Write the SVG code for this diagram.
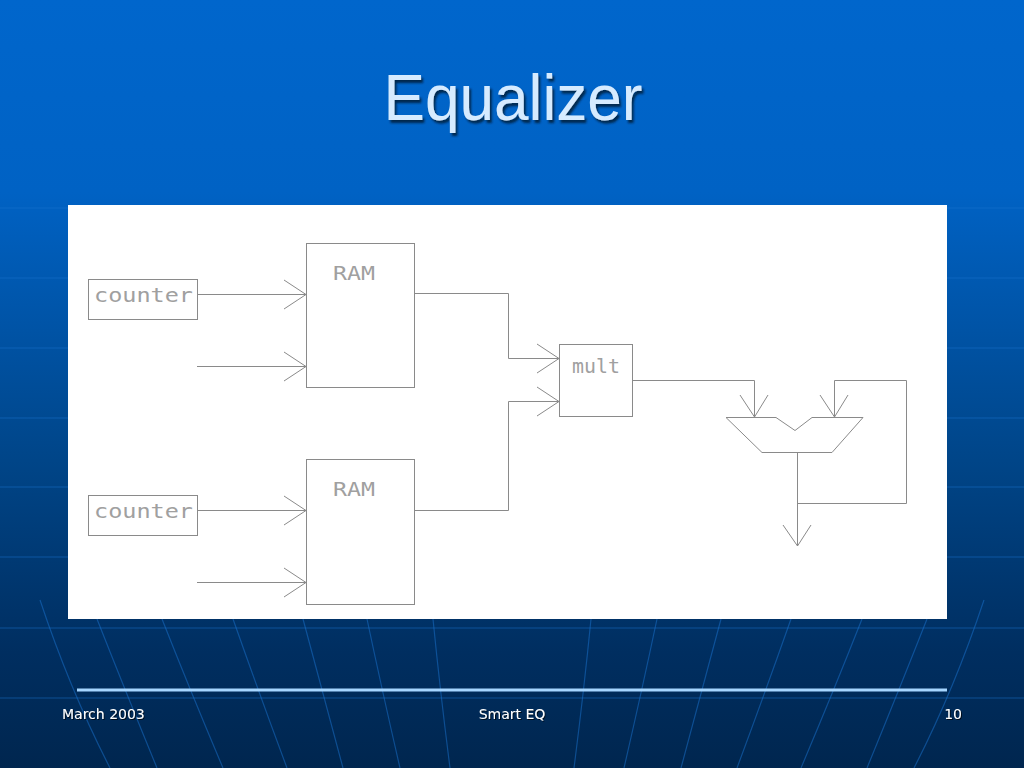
<svg xmlns="http://www.w3.org/2000/svg" width="1024" height="768" viewBox="0 0 1024 768">
<defs>
<linearGradient id="bg" x1="0" y1="0" x2="0" y2="1">
<stop offset="0" stop-color="#0066cc"/>
<stop offset="0.25" stop-color="#0062c4"/>
<stop offset="0.6" stop-color="#004588"/>
<stop offset="0.85" stop-color="#002e60"/>
<stop offset="1" stop-color="#00264f"/>
</linearGradient>
<filter id="sh" x="-10%" y="-10%" width="130%" height="140%">
<feDropShadow dx="2" dy="3" stdDeviation="1" flood-color="#001a33" flood-opacity="0.8"/>
</filter>
<filter id="sh2" x="-10%" y="-20%" width="130%" height="160%">
<feDropShadow dx="1" dy="1" stdDeviation="0.5" flood-color="#000" flood-opacity="0.7"/>
</filter>
</defs>
<style>
.ln{fill:none;stroke:#8a8a8a;stroke-width:1}
.bx{fill:#fff;stroke:#8a8a8a;stroke-width:1}
.lb{font-family:"DejaVu Sans Mono","Liberation Mono",monospace;fill:#a0a0a0;font-size:20px}
.ft{font-family:"DejaVu Sans","Liberation Sans",sans-serif;fill:#ffffff;font-size:14px}
.deco{fill:none;stroke:#1a73d0;stroke-width:1.2;opacity:0.5}
</style>
<rect x="0" y="0" width="1024" height="768" fill="url(#bg)"/>
<g id="decoration">
<path class="deco" d="M0 208H1024M0 278H1024M0 348H1024M0 418H1024M0 487H1024M0 557H1024M0 628H1024M0 698H1024"/>
<path class="deco" d="M40 600Q70 690 110 768M97 619Q125 690 157 768M162 619Q190 690 223 768M233 619Q258 690 287 768M303 619Q322 690 343 768M367 619Q382 690 400 768M433 619Q440 690 450 768"/>
<path class="deco" d="M984 600Q954 690 914 768M927 619Q899 690 867 768M862 619Q834 690 801 768M791 619Q766 690 737 768M721 619Q702 690 681 768M657 619Q642 690 624 768M591 619Q584 690 574 768"/>
</g>
<text x="513" y="120" text-anchor="middle" font-family="Liberation Sans, Arial, sans-serif" font-size="64" fill="#d6ebff" filter="url(#sh)" textLength="259" lengthAdjust="spacingAndGlyphs">Equalizer</text>
<rect x="68" y="205" width="879" height="414" fill="#ffffff"/>
<g id="counter1"><rect class="bx" x="88.5" y="279.5" width="109" height="40"/><text class="lb" x="94" y="302" textLength="99" lengthAdjust="spacingAndGlyphs">counter</text></g>
<g id="counter2"><rect class="bx" x="88.5" y="495.5" width="109" height="40"/><text class="lb" x="94" y="518" textLength="99" lengthAdjust="spacingAndGlyphs">counter</text></g>
<g id="ram1"><rect class="bx" x="306.5" y="243.5" width="108" height="144"/><text class="lb" x="333" y="280" textLength="42" lengthAdjust="spacingAndGlyphs">RAM</text></g>
<g id="ram2"><rect class="bx" x="306.5" y="459.5" width="108" height="145"/><text class="lb" x="333" y="496" textLength="42" lengthAdjust="spacingAndGlyphs">RAM</text></g>
<g id="mult"><rect class="bx" x="559.5" y="344.5" width="73" height="72"/><text class="lb" x="572" y="373" textLength="48" lengthAdjust="spacingAndGlyphs">mult</text></g>
<g id="adder"><path class="ln" d="M726 417.5H776L795 430.5L812 417.5H863L832 452.5H762Z"/></g>
<g id="connectors">
<path class="ln" d="M197 294.5H306M284 280L306 294.5L284 309"/>
<path class="ln" d="M197 366.5H306M284 352L306 366.5L284 381"/>
<path class="ln" d="M197 510.5H306M284 496L306 510.5L284 525"/>
<path class="ln" d="M197 582.5H306M284 568L306 582.5L284 597"/>
<path class="ln" d="M414 293.5H508.5V358.5H559M537 344L559 358.5L537 373"/>
<path class="ln" d="M414 510.5H508.5V401.5H559M537 387L559 401.5L537 416"/>
<path class="ln" d="M632 380.5H754.5V417M740 395L754.5 417L768 395"/>
<path class="ln" d="M797.5 452V546M783 525L797.5 546L811 525"/>
<path class="ln" d="M797.5 503.5H906.5V380.5H834.5V417M820 395L834.5 417L848 395"/>
</g>
<line x1="77" y1="690" x2="947" y2="690" stroke="#a6d6ff" stroke-width="3"/>
<text class="ft" x="62" y="719" filter="url(#sh2)">March 2003</text>
<text class="ft" x="512" y="719" text-anchor="middle" filter="url(#sh2)">Smart EQ</text>
<text class="ft" x="962" y="719" text-anchor="end" filter="url(#sh2)">10</text>
</svg>
